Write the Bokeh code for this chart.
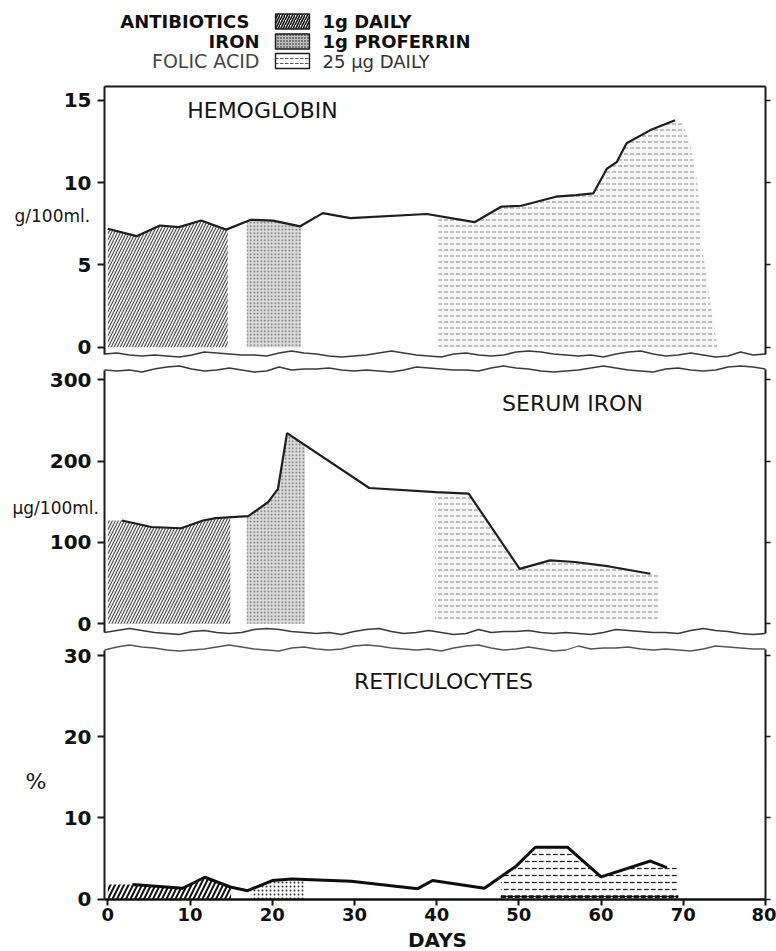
import numpy as np
from bokeh.plotting import figure
from bokeh.models import Range1d, LinearAxis, FixedTicker, Label
from bokeh.layouts import column
from bokeh.embed import file_html
from bokeh.resources import INLINE

# ---------------- data ----------------
hgb_days = [0, 3.5, 6.35, 8.65, 11.35, 14.4, 17.4, 20.1, 23.4, 26.15, 29.5, 38.8, 44.6,
            47.9, 50.3, 54.5, 56.95, 59.05, 60.7, 61.9, 63.1, 66.0, 69.0]
hgb_vals = [7.2, 6.75, 7.4, 7.3, 7.7, 7.15, 7.75, 7.7, 7.35, 8.15, 7.85, 8.1, 7.6,
            8.55, 8.6, 9.15, 9.25, 9.35, 10.85, 11.25, 12.4, 13.2, 13.8]

serum_days = [1.7, 5.3, 8.9, 11.6, 13.1, 17.1, 19.5, 20.7, 21.8, 31.8, 39.9, 43.9,
              50.1, 53.8, 56.8, 61.0, 66.0]
serum_vals = [127, 119, 117.5, 127, 130, 132.5, 149.5, 166, 234.5, 167, 162, 160,
              67.5, 78, 76, 70.5, 61.5]

retic_days = [3.0, 9.1, 11.8, 14.9, 17.0, 20.0, 22.4, 29.6, 37.7, 39.5, 45.8, 49.7,
              52.0, 55.9, 60.0, 66.0, 68.0]
retic_vals = [1.8, 1.35, 2.7, 1.5, 1.05, 2.3, 2.5, 2.2, 1.3, 2.3, 1.35, 4.1,
              6.4, 6.4, 2.75, 4.7, 3.9]

# shaded treatment periods as drawn in each panel (start day, end day)
hgb_antibiotic = (0.0, 14.6)
hgb_iron = (16.9, 23.5)
hgb_folic = (40.2, 69.0)
hgb_folic_edge_days = [70.0, 70.9, 71.7, 72.3, 73.5, 74.1]
hgb_folic_edge_vals = [13.6, 12.2, 10.1, 6.1, 2.0, 0.2]
serum_antibiotic = (0.0, 14.9)
serum_iron = (16.9, 24.0)
serum_folic = (39.8, 66.9)
retic_antibiotic = (0.0, 15.0)
retic_iron = (17.4, 24.0)
retic_folic = (47.8, 69.4)

hgb_ticks = [0, 5, 10, 15]
serum_ticks = [0, 100, 200, 300]
retic_ticks = [0, 10, 20, 30]
day_ticks = [0, 10, 20, 30, 40, 50, 60, 70, 80]

legend_names = ["ANTIBIOTICS", "IRON", "FOLIC ACID"]
legend_doses = ["1g DAILY", "1g PROFERRIN", "25 µg DAILY"]

# decorative broken-axis squiggle (pixel offsets)
wave_px = [0, -1, 1, 2, 1, 2, 3, 1, -2, -1, 0, 1, 1, 2, -1, -3, -1, 0, 2, 3, 2, 1, -1,
           -3, -1, 1, 2, 3, 0, -1, 1, 2, 1, -2, -3, -2, 0, 1, 2, 1, 3, 0, -2, -3, 0,
           2, 1, -1, 1, 3, 2, -2, 1, 0]

# ---------------- layout geometry (page pixels, page origin = figure origin) ----------------
FONT = "DejaVu Sans"
W = 776
PX_DAY0, PX_DAY80 = 107.3, 765.0
XS = (PX_DAY80 - PX_DAY0) / 80.0
X0 = -PX_DAY0 / XS
X1 = 80 + (W - PX_DAY80) / XS


def day_at(px):
    return X0 + px / XS


LEFT_EDGE = day_at(104)
RIGHT_EDGE = 80.0


class Panel:
    def __init__(self, top, h, y0, y1):
        self.top, self.h, self.y0, self.y1 = top, h, y0, y1

    def v(self, py):
        return self.y1 - (py - self.top) / self.h * (self.y1 - self.y0)


# value <-> page pixel calibration from the tick marks
P1 = Panel(0, 362, (346.7 - 362) / 16.447, (346.7 - 0) / 16.447)
P2 = Panel(362, 278, (623.3 - 640) / 0.8133, (623.3 - 362) / 0.8133)
P3 = Panel(640, 310, (898.7 - 950) / 8.123, (898.7 - 640) / 8.123)


def make_fig(panel):
    p = figure(width=W, height=panel.h, x_range=Range1d(X0, X1),
               y_range=Range1d(panel.y0, panel.y1),
               x_axis_location=None, y_axis_location=None,
               toolbar_location=None, output_backend="svg",
               min_border_left=0, min_border_right=0,
               min_border_top=0, min_border_bottom=0)
    p.outline_line_color = None
    p.grid.grid_line_color = None
    p.background_fill_color = "white"
    p.border_fill_color = "white"
    return p


def add_y_axes(p, ticks, lo_left, lo_right, hi_left, hi_right):
    left = LinearAxis(ticker=FixedTicker(ticks=ticks), bounds=(lo_left, hi_left),
                      fixed_location=LEFT_EDGE)
    left.major_tick_out = 7
    left.major_tick_in = 0
    left.minor_tick_line_color = None
    left.axis_line_width = 2
    left.axis_line_color = "#1a1a1a"
    left.major_tick_line_width = 2
    left.major_tick_line_color = "#1a1a1a"
    left.major_label_text_font = FONT
    left.major_label_text_font_size = "20px"
    left.major_label_text_font_style = "bold"
    left.major_label_text_color = "#111111"
    left.major_label_standoff = 6
    p.add_layout(left, "left")

    right = LinearAxis(ticker=FixedTicker(ticks=ticks), bounds=(lo_right, hi_right),
                       fixed_location=RIGHT_EDGE)
    right.major_tick_out = 5
    right.major_tick_in = 0
    right.minor_tick_line_color = None
    right.axis_line_width = 2
    right.axis_line_color = "#1a1a1a"
    right.major_tick_line_width = 1.5
    right.major_tick_line_color = "#1a1a1a"
    right.major_label_standoff = 0
    right.major_label_overrides = {t: "" for t in ticks}
    p.add_layout(right, "right")


def under(days, vals, x0, x1, base=0.0, extra_x=(), extra_y=()):
    d = np.asarray(days, float)
    v = np.asarray(vals, float)
    inner = [x for x in d if x0 < x < x1]
    xs = [x0] + inner + [x1]
    ys = list(np.interp(xs, d, v))
    xs += list(extra_x)
    ys += list(extra_y)
    xs += [xs[-1], x0]
    ys += [base, base]
    return xs, ys


def wave(panel, base_py, shift):
    offs = np.roll(np.asarray(wave_px, float), shift)
    xs = np.linspace(LEFT_EDGE, RIGHT_EDGE, len(offs))
    ys = [panel.v(base_py + o) for o in offs]
    return xs, ys


STY_TOP = {
    "anti": dict(fill_color="#f4f4f4", hatch_pattern="/", hatch_color="#4a4a4a",
                 hatch_scale=6, hatch_weight=1.1),
    "iron": dict(fill_color="#dcdcdc", hatch_pattern=".", hatch_color="#6a6a6a",
                 hatch_scale=3.5, hatch_weight=1.0),
    "folic": dict(fill_color="#f6f6f6", hatch_pattern='"', hatch_color="#8c8c8c",
                  hatch_scale=6, hatch_weight=1.0),
}
STY_BOT = {
    "anti": dict(fill_color="white", hatch_pattern="/", hatch_color="#111111",
                 hatch_scale=9, hatch_weight=2.0),
    "iron": dict(fill_color="white", hatch_pattern=".", hatch_color="#333333",
                 hatch_scale=4, hatch_weight=1.3),
    "folic": dict(fill_color="white", hatch_pattern='"', hatch_color="#222222",
                  hatch_scale=7, hatch_weight=1.3),
}


def text_label(p, x_px, y_px, panel, text, size="22px", align="center",
               style="normal", color="#151515"):
    p.add_layout(Label(x=day_at(x_px), y=panel.v(y_px), text=text, text_font=FONT,
                       text_font_size=size, text_align=align, text_baseline="middle",
                       text_font_style=style, text_color=color))


# ---------------- panel 1 : hemoglobin ----------------
p1 = make_fig(P1)
for period, key in [(hgb_antibiotic, "anti"), (hgb_iron, "iron")]:
    xs, ys = under(hgb_days, hgb_vals, *period)
    p1.patch(xs, ys, line_color=None, **STY_TOP[key])
xs, ys = under(hgb_days, hgb_vals, *hgb_folic, extra_x=hgb_folic_edge_days,
               extra_y=hgb_folic_edge_vals)
p1.patch(xs, ys, line_color=None, **STY_TOP["folic"])
p1.line(hgb_days, hgb_vals, line_color="#1e1e1e", line_width=2.2)

w1x, w1y = wave(P1, 353.5, 0)
p1.line(w1x, w1y, line_color="#3a3a3a", line_width=1.6)
top_val = P1.v(86)
p1.line([LEFT_EDGE, RIGHT_EDGE], [top_val, top_val], line_color="#1a1a1a", line_width=2)
add_y_axes(p1, hgb_ticks, w1y[0], w1y[-1], top_val, top_val)

text_label(p1, 262, 110, P1, "HEMOGLOBIN")
text_label(p1, 14, 215, P1, "g/100ml.", size="17px", align="left")

# legend
rows_py = [21, 41, 60.5]
box_styles = [
    dict(fill_color="white", hatch_pattern="/", hatch_color="#111111", hatch_scale=5,
         hatch_weight=1.6),
    dict(fill_color="#bdbdbd", hatch_pattern=".", hatch_color="#111111", hatch_scale=3,
         hatch_weight=1.2),
    dict(fill_color="white", hatch_pattern='"', hatch_color="#555555", hatch_scale=5,
         hatch_weight=1.0),
]
name_right_px = [249, 259, 259]
name_styles = [("bold", "#111111", "18px"), ("bold", "#111111", "18px"),
               ("normal", "#444444", "19px")]
dose_styles = [("bold", "#111111", "18px"), ("bold", "#111111", "18px"),
               ("normal", "#333333", "18px")]
for i, py in enumerate(rows_py):
    p1.quad(left=[day_at(275)], right=[day_at(309)], bottom=[P1.v(py + 7.5)],
            top=[P1.v(py - 7.5)], line_color="#1a1a1a", line_width=1.4, **box_styles[i])
    st, col, sz = name_styles[i]
    text_label(p1, name_right_px[i], py, P1, legend_names[i], size=sz, align="right",
               style=st, color=col)
    st, col, sz = dose_styles[i]
    text_label(p1, 322, py, P1, legend_doses[i], size=sz, align="left",
               style=st, color=col)

# ---------------- panel 2 : serum iron ----------------
p2 = make_fig(P2)
for period, key in [(serum_antibiotic, "anti"), (serum_iron, "iron")]:
    xs, ys = under(serum_days, serum_vals, *period)
    p2.patch(xs, ys, line_color=None, **STY_TOP[key])
xs, ys = under(serum_days, serum_vals, *serum_folic, base=5)
p2.patch(xs, ys, line_color=None, **STY_TOP["folic"])
p2.line(serum_days, serum_vals, line_color="#1e1e1e", line_width=2.2)

w2x, w2y = wave(P2, 368.5, 17)
w3x, w3y = wave(P2, 631, 33)
p2.line(w2x, w2y, line_color="#3a3a3a", line_width=1.6)
p2.line(w3x, w3y, line_color="#3a3a3a", line_width=1.6)
add_y_axes(p2, serum_ticks, w3y[0], w3y[-1], w2y[0], w2y[-1])

text_label(p2, 572, 403, P2, "SERUM IRON")
text_label(p2, 12, 507, P2, "µg/100ml.", size="17px", align="left")

# ---------------- panel 3 : reticulocytes ----------------
p3 = make_fig(P3)
for period, key in [(retic_antibiotic, "anti"), (retic_iron, "iron"), (retic_folic, "folic")]:
    xs, ys = under(retic_days, retic_vals, *period)
    p3.patch(xs, ys, line_color=None, **STY_BOT[key])
p3.line([retic_folic[0], retic_folic[1]], [0.3, 0.3], line_color="#111111",
        line_width=3, line_dash="5 2")
p3.line(retic_days, retic_vals, line_color="#0d0d0d", line_width=3)

w4x, w4y = wave(P3, 647.5, 41)
p3.line(w4x, w4y, line_color="#555555", line_width=1.3)
add_y_axes(p3, retic_ticks, 0, 0, w4y[0], w4y[-1])

xa = LinearAxis(ticker=FixedTicker(ticks=day_ticks), fixed_location=0,
                bounds=(LEFT_EDGE, RIGHT_EDGE))
xa.major_tick_out = 6
xa.major_tick_in = 0
xa.minor_tick_line_color = None
xa.axis_line_width = 2.5
xa.axis_line_color = "#111111"
xa.major_tick_line_width = 2
xa.major_tick_line_color = "#111111"
xa.major_label_text_font = FONT
xa.major_label_text_font_size = "18px"
xa.major_label_text_font_style = "bold"
xa.major_label_text_color = "#111111"
xa.major_label_standoff = 3
p3.add_layout(xa, "below")

text_label(p3, 443, 680.5, P3, "RETICULOCYTES")
text_label(p3, 25, 781, P3, "%", size="22px", align="left")
text_label(p3, 437, 939, P3, "DAYS", size="20px", style="bold", color="#111111")

layout = column(p1, p2, p3, spacing=0)
open("out.html", "w").write(file_html(layout, INLINE))
